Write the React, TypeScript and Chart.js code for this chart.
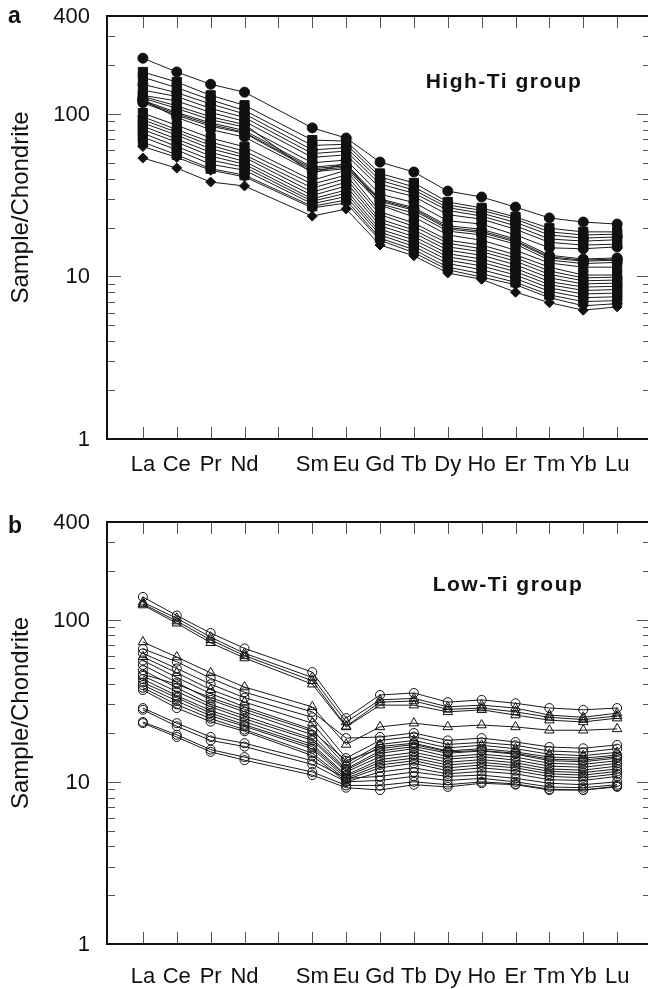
import React, { useEffect, useRef } from 'react';
import { Chart, registerables } from 'chart.js';

Chart.register(...registerables);

// ---------- categories & ticks ----------
const ELEMENTS = ['La', 'Ce', 'Pr', 'Nd', 'Pm', 'Sm', 'Eu', 'Gd', 'Tb', 'Dy', 'Ho', 'Er', 'Tm', 'Yb', 'Lu'];
const PLOTTED = ['La', 'Ce', 'Pr', 'Nd', 'Sm', 'Eu', 'Gd', 'Tb', 'Dy', 'Ho', 'Er', 'Tm', 'Yb', 'Lu'];
const Y_LABELS = [1, 10, 100, 400];
const Y_MAJOR = [1, 10, 100];
const Y_MINOR = [2, 3, 4, 5, 6, 7, 8, 9, 20, 30, 40, 50, 60, 70, 80, 90, 200, 300];

// ---------- (a) High-Ti group ----------
const hiTop = [220, 181, 152, 136, 82, 71, 50.5, 43.9, 33.5, 30.8, 26.7, 22.9, 21.6, 21.0];
const hiU1 = [181, 157, 130, 113, 69, 68, 43, 37.6, 28.7, 26.4, 23.2, 19.8, 18.8, 18.8];
const hiU2 = [168, 145, 122, 105, 64, 65, 41, 35.5, 27.5, 25.5, 22.5, 18.8, 18, 18.2];
const hiU3 = [152, 135, 115, 100, 60, 62, 39, 34, 26.5, 24.5, 21.5, 18, 17.2, 17.5];
const hiU4 = [140, 128, 108, 95, 57, 59, 37, 32.5, 25.5, 23.5, 20.5, 17, 16.5, 16.8];
const hiU5 = [130, 120, 102, 90, 54, 56, 35, 31, 24, 22.5, 19.5, 16.2, 15.6, 15.8];
const hiU6 = [125, 108, 92, 83, 50, 52, 32, 28.5, 22, 21, 18, 15, 14.8, 15.2];
const hiU7 = [121, 102, 88, 79, 47, 49, 30, 26.5, 20.5, 19.5, 17, 13.5, 12.8, 13];
const hiU8 = [119, 100, 86, 77, 46, 48, 29.5, 26, 20, 19, 16.6, 13.2, 12.6, 12.8];
const hiU9 = [117, 98, 84, 76, 45, 47, 29, 25.5, 19.6, 18.6, 16.3, 13, 12.4, 12.6];
const hiU10 = [122, 95, 80, 72, 44, 46, 28, 24.5, 19, 18, 15.8, 12.6, 12, 12.2];
const hiU11 = [128, 112, 96, 86, 43, 50, 27.5, 23.2, 18, 16.7, 14.5, 12.1, 11.4, 11.4];
const hiL1 = [101, 85, 71, 62.7, 39, 45, 25, 21.3, 16.7, 15.6, 13.6, 11.4, 10.2, 10.2];
const hiL2 = [96, 80, 67, 59, 37, 42, 24, 20.3, 16, 14.8, 13, 10.8, 9.8, 9.9];
const hiL3 = [92, 77, 64, 56, 35, 40, 22.5, 19.3, 15.2, 14.2, 12.4, 10.3, 9.4, 9.5];
const hiL4 = [88, 74, 61, 54, 33, 38, 21.5, 18.5, 14.5, 13.5, 11.8, 9.8, 9.0, 9.1];
const hiL5 = [84, 70, 58, 51, 31.5, 36, 20.5, 17.6, 13.8, 12.8, 11.2, 9.3, 8.6, 8.7];
const hiL6 = [80, 67, 55, 49, 30, 34, 19.5, 16.8, 13.2, 12.2, 10.7, 8.9, 8.2, 8.3];
const hiL7 = [76, 63, 52, 47, 29, 32.5, 18.7, 16, 12.6, 11.6, 10.2, 8.5, 7.8, 7.9];
const hiL8 = [72, 60, 49, 45, 28, 31, 18, 15.3, 12, 11, 9.7, 8.1, 7.4, 7.5];
const hiL9 = [67, 56, 46, 42, 27, 29.5, 17.2, 14.6, 11.4, 10.4, 9.2, 7.7, 7.0, 7.1];
const hiL10 = [63, 54, 45, 41, 26.4, 28.3, 16.7, 14, 11, 9.9, 8.9, 7.4, 6.6, 6.8];
const hiBottom = [53.5, 46.4, 38.1, 36, 23.5, 26, 15.6, 13.4, 10.5, 9.6, 8.0, 6.9, 6.2, 6.5];

const HI_CIRCLES = [hiTop, hiU3, hiU6, hiU7, hiU8, hiU9, hiU10];
const HI_SQUARES = [hiU1, hiU2, hiU4, hiU5, hiU11, hiL1, hiL3, hiL4, hiL5, hiL6, hiL7, hiL8, hiL9];
const HI_DIAMONDS = [hiL2, hiL10, hiBottom];

// ---------- (b) Low-Ti group ----------
const loT1 = [138, 106, 82.7, 66.5, 47.5, 24.7, 34.3, 35.3, 31, 32, 30.5, 28.5, 27.8, 28.5];
const loT2 = [128, 102, 78, 62, 44, 23.4, 32, 32.7, 29, 29.7, 28.5, 25.8, 25, 26.5];
const loT3 = [125, 98, 75, 60, 42, 22, 31, 31.5, 28, 28.5, 27, 25, 24.2, 25.5];
const loT4 = [123, 95, 72, 58, 40, 21.8, 29.7, 29.7, 27, 27.8, 25.8, 24, 23.4, 24.7];
const loT5 = [72.8, 58.8, 47, 38.4, 29, 17, 21.8, 23, 21.8, 22.4, 21.8, 20.8, 20.8, 21.2];
const loM1 = [66, 55, 43.5, 35.7, 27, 18.6, 18.9, 20, 18, 18.6, 17.6, 16.4, 16.1, 16.9];
const loM2 = [62, 50, 40, 33, 25, 14, 18, 19, 17, 17.5, 16.8, 15.5, 15.2, 16];
const loM3 = [59, 47, 37, 31, 23, 13, 17, 18, 16.2, 16.8, 16, 14.8, 14.5, 15.2];
const loM4 = [56, 44, 35, 29, 21, 12.5, 16.5, 17.3, 15.5, 16, 15.3, 14.2, 14, 14.6];
const loM5 = [52.5, 41, 32, 27, 19.5, 12, 15.5, 16.5, 15, 15.5, 14.8, 13.5, 13.3, 14];
const loM6 = [48.8, 38, 30, 25.5, 18.5, 11.8, 15, 16, 14.3, 14.8, 14.2, 13, 12.8, 13.5];
const loM7 = [45, 36, 29, 24.5, 18, 11.5, 14.3, 15.2, 13.8, 14.3, 13.6, 12.5, 12.3, 13];
const loM8 = [43, 34, 27.5, 23.5, 17, 11, 13.7, 14.6, 13.2, 13.7, 13.1, 12, 11.8, 12.5];
const loM9 = [41, 33, 26.5, 22.5, 16.5, 10.8, 13.2, 14, 12.7, 13.2, 12.6, 11.6, 11.4, 12];
const loM10 = [39.5, 31.5, 25.5, 22, 16, 10.5, 12.7, 13.5, 12.2, 12.7, 12.2, 11.2, 11, 11.6];
const loM11 = [38, 30, 24.5, 21, 15, 10.3, 12.2, 13, 11.7, 12.2, 11.7, 10.8, 10.6, 11.2];
const loM12 = [36.8, 28.5, 23.5, 20.5, 14.5, 10, 11.5, 12.2, 11.2, 11.6, 11.2, 10.3, 10.2, 10.8];
const loM13 = [46, 40, 33, 28, 20.5, 13.5, 16, 17, 15.3, 15.6, 15, 13.8, 13.6, 14.3];
const loW1 = [28.5, 23, 18.9, 17.3, 13.5, 10.5, 10.8, 11.5, 10.8, 11, 10.5, 9.8, 9.6, 10];
const loW2 = [27.8, 22, 18, 16.5, 12.8, 10, 10.2, 10.8, 10.2, 10.5, 10, 9.3, 9.2, 9.6];
const loW3 = [23.4, 19.5, 15.8, 14.2, 11.5, 9.5, 9.5, 10, 9.6, 10, 9.7, 9.0, 8.9, 9.3];
const loW4 = [23, 18.9, 15.3, 13.6, 11, 9.2, 8.9, 9.6, 9.3, 9.8, 9.6, 8.9, 8.9, 9.4];

const LO_CIRCLES = [loT1, loM1, loM2, loM4, loM5, loM6, loM7, loM8, loM9, loM10, loM11, loM12, loM13, loW1, loW2, loW3, loW4];
const LO_TRIANGLES = [loT2, loT3, loT4, loT5, loM3];

const FONT = "'Liberation Sans', Arial, Helvetica, sans-serif";

function toPoints(values: number[]) {
  return PLOTTED.map((el, i) => ({ x: ELEMENTS.indexOf(el), y: values[i] }));
}

function series(values: number[], style: string, radius: number, filled: boolean) {
  return {
    data: toPoints(values),
    borderColor: '#1a1a1a',
    borderWidth: 1,
    pointStyle: style,
    pointRadius: radius,
    pointBorderWidth: 1,
    pointBorderColor: '#111',
    pointBackgroundColor: filled ? '#111' : 'rgba(0,0,0,0)',
    showLine: true,
    fill: false,
  };
}

const framePlugin = {
  id: 'frame',
  afterDraw(chart: any, _args: any, opts: any) {
    const { ctx, chartArea: a, scales } = chart;
    const x = scales.x;
    const y = scales.y;
    ctx.save();
    // inward ticks
    ctx.strokeStyle = '#555';
    ctx.lineWidth = 1;
    ctx.beginPath();
    ELEMENTS.forEach((_e, i) => {
      const px = Math.round(x.getPixelForValue(i)) + 0.5;
      ctx.moveTo(px, a.bottom);
      ctx.lineTo(px, a.bottom - 12);
      ctx.moveTo(px, a.top);
      ctx.lineTo(px, a.top + 12);
    });
    Y_MAJOR.forEach((v) => {
      const py = Math.round(y.getPixelForValue(v)) + 0.5;
      ctx.moveTo(a.left, py);
      ctx.lineTo(a.left + 14, py);
      ctx.moveTo(a.right, py);
      ctx.lineTo(a.right - 14, py);
    });
    Y_MINOR.forEach((v) => {
      const py = Math.round(y.getPixelForValue(v)) + 0.5;
      ctx.moveTo(a.left, py);
      ctx.lineTo(a.left + 8, py);
      ctx.moveTo(a.right, py);
      ctx.lineTo(a.right - 8, py);
    });
    ctx.stroke();
    // frame
    ctx.strokeStyle = '#111';
    ctx.lineWidth = 2;
    ctx.strokeRect(a.left, a.top, a.right - a.left, a.bottom - a.top);

    ctx.fillStyle = '#111';
    // y tick labels
    ctx.font = `22px ${FONT}`;
    ctx.textAlign = 'right';
    ctx.textBaseline = 'middle';
    Y_LABELS.forEach((v) => {
      ctx.fillText(String(v), a.left - 17, y.getPixelForValue(v) + 1);
    });
    // panel letter
    ctx.font = `bold 23px ${FONT}`;
    ctx.textAlign = 'left';
    ctx.textBaseline = 'alphabetic';
    ctx.fillText(opts.letter, 8, opts.letterBaseline);
    // group label
    ctx.font = `bold 21px ${FONT}`;
    ctx.textAlign = 'center';
    (ctx as any).letterSpacing = '1.5px';
    ctx.fillText(opts.group, opts.groupX, opts.groupBaseline);
    (ctx as any).letterSpacing = '0px';
    // y-axis title
    ctx.font = `24px ${FONT}`;
    ctx.translate(28, (a.top + a.bottom) / 2 - 20);
    ctx.rotate(-Math.PI / 2);
    ctx.textAlign = 'center';
    ctx.textBaseline = 'alphabetic';
    ctx.fillText('Sample/Chondrite', 0, 0);
    ctx.restore();
  },
};

function makeConfig(datasets: any[], opts: { top: number; xHeight: number; xPad: number; letter: string; letterBaseline: number; group: string; groupX: number; groupBaseline: number }) {
  return {
    type: 'scatter',
    data: { datasets },
    plugins: [framePlugin],
    options: {
      responsive: false,
      animation: false,
      events: [],
      layout: { padding: { top: opts.top, left: 0, right: 9, bottom: 0 } },
      plugins: {
        legend: { display: false },
        tooltip: { enabled: false },
        frame: opts,
      },
      scales: {
        x: {
          type: 'linear',
          min: -1.06,
          max: 15,
          grid: { display: false, drawTicks: false },
          border: { display: false },
          afterBuildTicks: (scale: any) => {
            scale.ticks = ELEMENTS.map((_e, i) => ({ value: i }));
          },
          afterFit: (scale: any) => {
            scale.height = opts.xHeight;
          },
          ticks: {
            autoSkip: false,
            maxRotation: 0,
            minRotation: 0,
            padding: opts.xPad,
            color: '#111',
            font: { size: 22, family: FONT },
            callback: (v: number) => (ELEMENTS[v] === 'Pm' ? '' : ELEMENTS[v]),
          },
        },
        y: {
          type: 'logarithmic',
          min: 1,
          max: 400,
          grid: { display: false, drawTicks: false },
          border: { display: false },
          ticks: { display: false },
          afterFit: (scale: any) => {
            scale.width = 107;
          },
        },
      },
    },
  };
}

export default function App() {
  const refA = useRef<HTMLCanvasElement | null>(null);
  const refB = useRef<HTMLCanvasElement | null>(null);

  useEffect(() => {
    const dsA = [
      ...HI_SQUARES.map((v) => series(v, 'rect', 6.5, true)),
      ...HI_DIAMONDS.map((v) => series(v, 'rectRot', 5, true)),
      ...HI_CIRCLES.map((v) => series(v, 'circle', 5, true)),
    ];
    const dsB = [
      ...LO_CIRCLES.map((v) => series(v, 'circle', 4.5, false)),
      ...LO_TRIANGLES.map((v) => series(v, 'triangle', 5.5, false)),
    ];
    const chartA = new Chart(refA.current as HTMLCanvasElement, makeConfig(dsA, {
      top: 16, xHeight: 51, xPad: 13, letter: 'a', letterBaseline: 23,
      group: 'High-Ti group', groupX: 504, groupBaseline: 88,
    }) as any);
    const chartB = new Chart(refB.current as HTMLCanvasElement, makeConfig(dsB, {
      top: 32, xHeight: 45, xPad: 20, letter: 'b', letterBaseline: 43,
      group: 'Low-Ti group', groupX: 508, groupBaseline: 101,
    }) as any);
    return () => {
      chartA.destroy();
      chartB.destroy();
    };
  }, []);

  return (
    <div style={{ position: 'absolute', left: 0, top: 0, width: 648, height: 989, overflow: 'hidden', background: '#fff' }}>
      <canvas ref={refA} width={660} height={490} style={{ position: 'absolute', left: 0, top: 0, width: 660, height: 490 }} />
      <canvas ref={refB} width={660} height={499} style={{ position: 'absolute', left: 0, top: 490, width: 660, height: 499 }} />
    </div>
  );
}
